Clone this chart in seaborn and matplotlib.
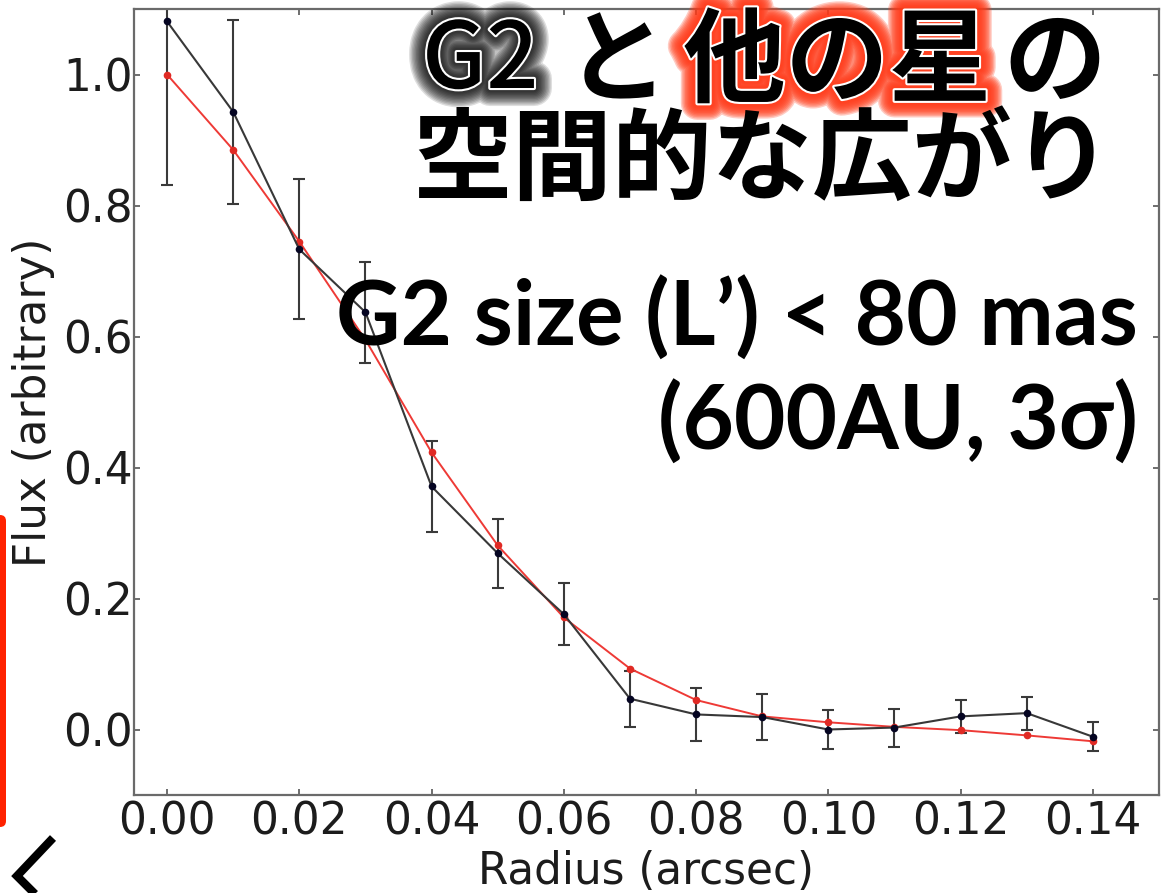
import matplotlib
matplotlib.use("Agg")
import matplotlib.pyplot as plt
import matplotlib.patheffects as pe
from matplotlib.patches import FancyBboxPatch
from matplotlib.lines import Line2D
import seaborn as sns

# Radial flux profiles
radius = [0.00, 0.01, 0.02, 0.03, 0.04, 0.05, 0.06, 0.07,
          0.08, 0.09, 0.10, 0.11, 0.12, 0.13, 0.14]
flux_g2 = [1.081, 0.943, 0.733, 0.637, 0.371, 0.269, 0.176, 0.047,
           0.023, 0.019, 0.000, 0.003, 0.020, 0.025, -0.011]
flux_g2_err = [0.250, 0.140, 0.107, 0.077, 0.069, 0.053, 0.047, 0.043,
               0.040, 0.035, 0.030, 0.029, 0.025, 0.025, 0.022]
flux_stars = [1.000, 0.885, 0.745, 0.595, 0.423, 0.281, 0.171, 0.093,
              0.045, 0.020, 0.011, 0.004, -0.001, -0.009, -0.018]

x_ticks = [0.00, 0.02, 0.04, 0.06, 0.08, 0.10, 0.12, 0.14]
y_ticks = [0.0, 0.2, 0.4, 0.6, 0.8, 1.0]

title_line1 = ["G2", "と", "他の星", "の"]
title_line2 = "空間的な広がり"
size_note = ["G2 size (L’) < 80 mas", "(600AU, 3σ)"]

sns.set_style("ticks")
plt.rcParams.update({
    "font.family": "sans-serif",
    "font.sans-serif": ["DejaVu Sans"],
    "xtick.direction": "in",
    "ytick.direction": "in",
    "xtick.top": True,
    "ytick.right": True,
})

W, H = 1161, 893
fig = plt.figure(figsize=(W / 100, H / 100), dpi=100)
fig.patch.set_facecolor("white")


def fx(px):
    return px / W


def fy(py):
    return 1 - py / H


ax = fig.add_axes([fx(134), fy(795), fx(1159) - fx(134), fy(9) - fy(795)])

ax.errorbar(radius, flux_g2, yerr=flux_g2_err, fmt="none",
            ecolor="#3a3a3a", elinewidth=1.5, capsize=4.5, capthick=1.5,
            zorder=2)
sns.lineplot(x=radius, y=flux_stars, ax=ax, color="#ee3a36",
             linewidth=1.4, marker="o", markersize=5.5,
             markeredgewidth=0, markerfacecolor="#e02a24", zorder=3)
sns.lineplot(x=radius, y=flux_g2, ax=ax, color="#383838",
             linewidth=1.5, marker="o", markersize=5.5,
             markeredgewidth=0, markerfacecolor="#050522", zorder=4)

ax.set_xlim(-0.005, 0.15)
ax.set_ylim(-0.1, 1.1)
ax.set_xticks(x_ticks)
ax.set_xticklabels([f"{v:.2f}" for v in x_ticks])
ax.set_yticks(y_ticks)
ax.set_yticklabels([f"{v:.1f}" for v in y_ticks])
ax.tick_params(axis="both", which="major", length=4, width=1.2,
               color="#555555", labelsize=31.5, labelcolor="#1c1c1c")
ax.tick_params(axis="y", pad=1)
ax.tick_params(axis="x", pad=4)
for lbl in ax.get_xticklabels() + ax.get_yticklabels():
    lbl.set_fontfamily("DejaVu Sans")
for s in ax.spines.values():
    s.set_color("#6a6a6a")
    s.set_linewidth(1.6)
ax.set_xlabel("Radius (arcsec)", fontsize=31.5, color="#1c1c1c", labelpad=5,
              fontfamily="DejaVu Sans")
ax.set_ylabel("Flux (arbitrary)", fontsize=31.5, color="#1c1c1c", labelpad=6,
              fontfamily="DejaVu Sans")


def glow(color, widths, alpha, edge=3.0):
    effects = [pe.Stroke(linewidth=w, foreground=color, alpha=alpha)
               for w in widths]
    effects += [pe.Stroke(linewidth=edge, foreground="white"), pe.Normal()]
    return effects


jp = dict(family=["Noto Sans CJK JP", "DejaVu Sans"], weight="bold",
          fontsize=74, color="black", va="center", ha="left", zorder=10)

fig.text(fx(422), fy(62), title_line1[0],
         path_effects=glow("#000000", list(range(26, 5, -2)), 0.13),
         **{**jp, "fontsize": 66, "weight": "medium"})
fig.text(fx(566), fy(64), title_line1[1], **jp)
fig.text(fx(683), fy(64), title_line1[2],
         path_effects=glow("#ff3a18", list(range(24, 5, -2)), 0.26), **jp)
fig.text(fx(1003), fy(64), title_line1[3], **jp)
fig.text(fx(1112), fy(162), title_line2,
         **{**jp, "fontsize": 72, "ha": "right"})

en = dict(family=["Lato", "DejaVu Sans"], weight="bold", fontsize=64,
          color="black", ha="right", va="center", zorder=10)
fig.text(fx(1138), fy(318), size_note[0], **en)
fig.text(fx(1138), fy(422), size_note[1], **en)

# slide decorations: red side bar and back chevron
fig.patches.append(FancyBboxPatch((-8, H - 827), 14, 312,
                                  boxstyle="round,pad=0,rounding_size=6",
                                  transform=None, facecolor="#ff2200",
                                  edgecolor="none", figure=fig))
fig.lines.append(Line2D([fx(53), fx(17), fx(40)], [fy(838), fy(876), fy(899)],
                        transform=fig.transFigure, color="black",
                        linewidth=6, solid_joinstyle="miter",
                        solid_capstyle="butt", figure=fig))

fig.savefig("out.png", dpi=100, facecolor="white")
